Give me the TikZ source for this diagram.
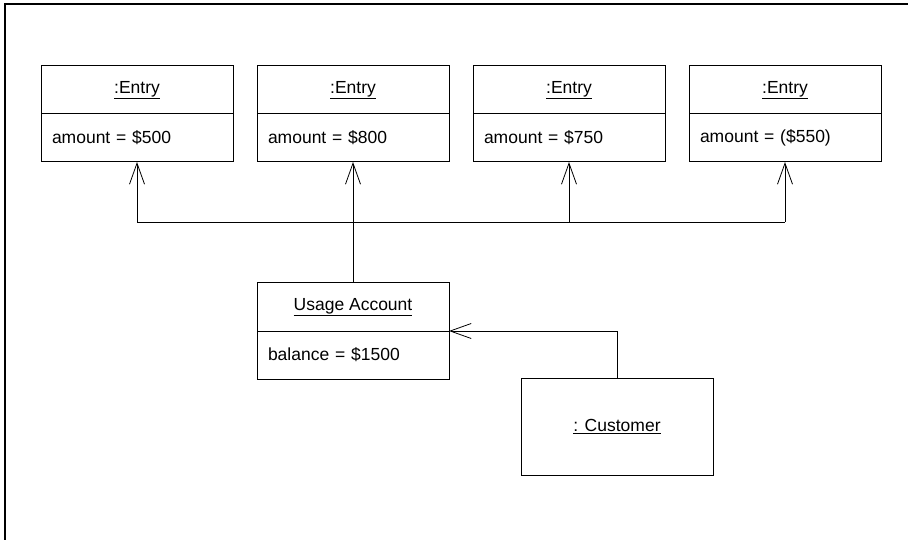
\documentclass[tikz,border=0pt]{standalone}
\usepackage{fontspec}
\setmainfont{Liberation Sans}
\usetikzlibrary{positioning,arrows.meta}

\begin{document}
\begin{tikzpicture}[
        x=1pt,
        y=-1pt,
        line join=miter,
        % 对象框样式
        head/.style={draw,line width=1pt,outer sep=0pt,inner sep=0pt,
            minimum width=192pt,minimum height=48pt,
            font=\fontsize{17.5}{20}\selectfont},
        attr/.style={draw,line width=1pt,outer sep=0pt,inner xsep=11pt,inner ysep=0pt,
            text width=170pt,minimum height=48pt,align=left,
            font=\fontsize{17.5}{20}\selectfont},
        % 连线样式
        link/.style={line width=0.8pt},
        nav/.style={link,-{Straight Barb[length=21pt,width=15pt]}},
    ]

    % 画布与外框
    \useasboundingbox (0,0) rectangle (908,540);
    \draw[line width=2pt] (5,540) -- (5,4) -- (908,4);

    % 四个 Entry 对象
    \foreach \i/\v in {1/\$500,2/\$800,3/\$750,4/(\$550)} {
        \node[head] (entry\i) at ({137+216*(\i-1)},90) {\underline{:Entry}};
        \node[attr,below=0pt of entry\i] (amount\i) {amount = \v};
    }

    % 账户与客户
    \node[head] (usage) at (353,307) {\underline{Usage Account}};
    \node[attr,below=0pt of usage] (balance) {balance = \$1500};
    \node[head,minimum height=97pt] (customer) at (617,426.5) {\underline{: Customer}};

    % 连线
    \coordinate (bus) at (353,222);
    \draw[link] (amount1.south |- bus) -- (amount4.south |- bus);
    \draw[link] (usage.north) -- (bus);
    \foreach \i in {1,...,4}
        \draw[nav] (amount\i.south |- bus) -- (amount\i.south);
    \draw[nav] (customer.north) |- (usage.south east);
\end{tikzpicture}
\end{document}
